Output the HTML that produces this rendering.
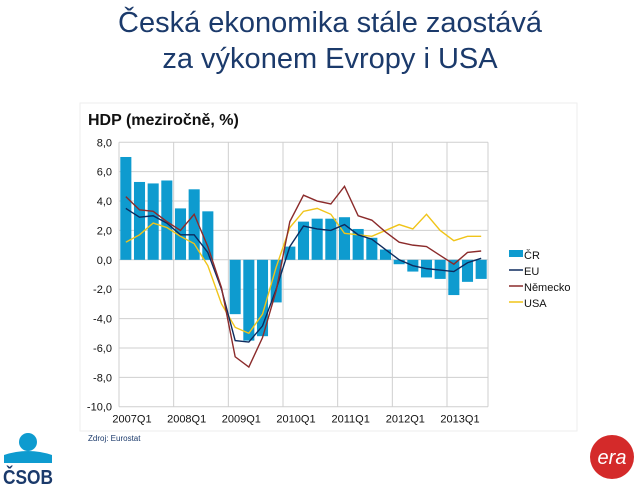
<!DOCTYPE html>
<html><head><meta charset="utf-8"><style>
body{margin:0;width:640px;height:488px;background:#fff;overflow:hidden;font-family:"Liberation Sans",sans-serif}
</style></head><body>
<svg width="640" height="488" xmlns="http://www.w3.org/2000/svg">
<text x="330" y="32" text-anchor="middle" font-size="29" fill="#1b3a6b">Česká ekonomika stále zaostává</text>
<text x="330" y="68" text-anchor="middle" font-size="29" fill="#1b3a6b">za výkonem Evropy i USA</text>
<rect x="80" y="103" width="497" height="328" fill="#fff" stroke="#eee"/>
<text x="88" y="125" font-size="16" font-weight="bold" fill="#111">HDP (meziročně, %)</text>
<g id="grid"></g>
<g id="bars"></g>
<g id="lines"></g>
<g id="axes"></g>
<text x="88" y="441" font-size="8" fill="#1b3a6b">Zdroj: Eurostat</text>
<g>
<rect x="509" y="250" width="14" height="7" fill="#0e9bcf"/>
<text x="524" y="259" font-size="11" fill="#111">ČR</text>
<line x1="509" y1="270" x2="523" y2="270" stroke="#0d2b5e" stroke-width="1.5"/>
<text x="524" y="275" font-size="11" fill="#111">EU</text>
<line x1="509" y1="286" x2="523" y2="286" stroke="#8b2b2b" stroke-width="1.5"/>
<text x="524" y="291" font-size="11" fill="#111">Německo</text>
<line x1="509" y1="302" x2="523" y2="302" stroke="#f0c419" stroke-width="1.5"/>
<text x="524" y="307" font-size="11" fill="#111">USA</text>
</g>
<g>
<circle cx="28" cy="442" r="9" fill="#0e9bcf"/>
<path d="M4 455 Q28 447 52 455 L52 463 L4 463 Z" fill="#0e9bcf"/>
<text x="3" y="484" font-size="20" font-weight="bold" fill="#1b3a6b" textLength="50" lengthAdjust="spacingAndGlyphs">ČSOB</text>
</g>
<g>
<circle cx="612" cy="457" r="22" fill="#d42a2a"/>
<text x="612" y="464" text-anchor="middle" font-size="20" font-style="italic" fill="#fff">era</text>
</g>
</svg>
<script>
const quarters=["2007Q1","2007Q2","2007Q3","2007Q4","2008Q1","2008Q2","2008Q3","2008Q4","2009Q1","2009Q2","2009Q3","2009Q4","2010Q1","2010Q2","2010Q3","2010Q4","2011Q1","2011Q2","2011Q3","2011Q4","2012Q1","2012Q2","2012Q3","2012Q4","2013Q1","2013Q2","2013Q3"];
const cr=[7.0,5.3,5.2,5.4,3.5,4.8,3.3,0.0,-3.7,-5.5,-5.2,-2.9,0.9,2.6,2.8,2.8,2.9,2.1,1.5,0.7,-0.3,-0.8,-1.2,-1.3,-2.4,-1.5,-1.3];
const eu=[3.5,2.9,3.0,2.5,1.7,1.7,0.5,-2.0,-5.5,-5.6,-4.5,-2.0,0.9,2.3,2.1,2.0,2.4,1.7,1.4,0.7,0.0,-0.4,-0.6,-0.7,-0.8,-0.2,0.1];
const de=[4.3,3.4,3.3,2.6,2.0,3.1,0.9,-1.9,-6.6,-7.3,-5.3,-2.1,2.6,4.4,4.0,3.8,5.0,3.0,2.7,1.9,1.2,1.0,0.9,0.3,-0.3,0.5,0.6];
const usa=[1.2,1.7,2.5,2.2,1.6,1.1,-0.4,-3.0,-4.6,-5.0,-3.7,-0.5,2.2,3.3,3.5,3.1,1.8,1.7,1.6,2.0,2.4,2.1,3.1,2.0,1.3,1.6,1.6];
const yTicks=[8,6,4,2,0,-2,-4,-6,-8,-10];
const yearLabels=["2007Q1","2008Q1","2009Q1","2010Q1","2011Q1","2012Q1","2013Q1"];
const NS="http://www.w3.org/2000/svg";
const L=119,R=488,T=142.3,B=406.7,ymax=8,ymin=-10;
const qw=(R-L)/quarters.length;
const y=v=>T+(ymax-v)/(ymax-ymin)*(B-T);
const xs=i=>L+i*qw;
const xc=i=>L+(i+0.5)*qw;
function mk(t,a,p){const e=document.createElementNS(NS,t);for(const k in a)e.setAttribute(k,a[k]);p.appendChild(e);return e;}
const grid=document.getElementById('grid'),axes=document.getElementById('axes'),bars=document.getElementById('bars'),lines=document.getElementById('lines');
yTicks.forEach(v=>{
 const g=mk('line',{x1:L,x2:R,y1:y(v),y2:y(v),stroke:'#cfcfcf','stroke-width':1},grid);
 
 
 const t=mk('text',{x:L-7,y:y(v)+4,'text-anchor':'end','font-size':11,fill:'#111'},axes);
 t.textContent=v.toFixed(1).replace('.',',');
 
 
});
yearLabels.forEach(lab=>{
 const i=quarters.indexOf(lab);
 const g=mk('line',{x1:xs(i),x2:xs(i),y1:T,y2:B,stroke:'#cfcfcf','stroke-width':1},grid);
 
 
 const t=mk('text',{x:xs(i)+13,y:B+16,'text-anchor':'middle','font-size':11,fill:'#111'},axes);
 t.textContent=lab;
 
 
});
mk('line',{x1:R,x2:R,y1:T,y2:B,stroke:'#cfcfcf'},grid);
cr.forEach((v,i)=>{
 const y0=y(0),y1=y(v);
 const r=mk('rect',{x:xs(i)+1.3,width:qw-2.6,y:Math.min(y0,y1),height:Math.abs(y1-y0),fill:'#0e9bcf'},bars);
 
 
});
[[usa,'#f0c419','line-usa'],[eu,'#0d2b5e','line-eu'],[de,'#8b2b2b','line-germany']].forEach(([d,c,n])=>{
 const p=mk('polyline',{points:d.map((v,i)=>xc(i)+','+y(v)).join(' '),fill:'none',stroke:c,'stroke-width':1.4},lines);
 
 
});
</script>
</body></html>
